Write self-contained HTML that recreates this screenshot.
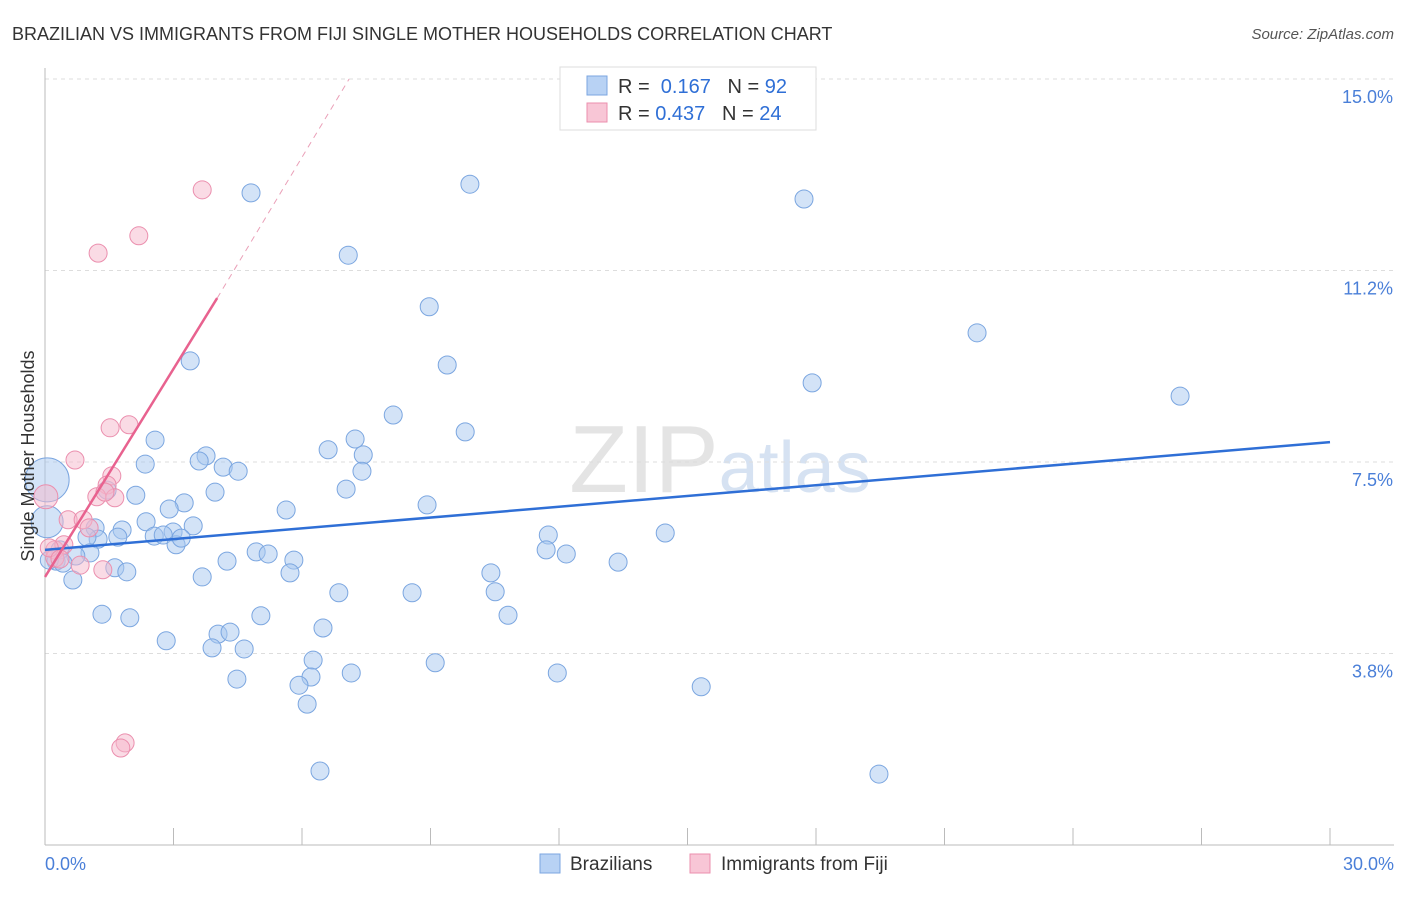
<!DOCTYPE html>
<html><head><meta charset="utf-8"><style>
body{margin:0;background:#fff;font-family:"Liberation Sans",sans-serif;}
svg text{font-family:"Liberation Sans",sans-serif;}
</style></head><body>
<svg id="chart" width="1406" height="892" viewBox="0 0 1406 892" xmlns="http://www.w3.org/2000/svg">
<text x="12" y="40" font-size="18" fill="#333">BRAZILIAN VS IMMIGRANTS FROM FIJI SINGLE MOTHER HOUSEHOLDS CORRELATION CHART</text>
<text x="1394" y="39" font-size="15" fill="#555" font-style="italic" text-anchor="end">Source: ZipAtlas.com</text>
<text x="720" y="492" font-size="96" fill="#e4e4e4" text-anchor="middle" font-family="Liberation Serif"><tspan>ZIP</tspan><tspan fill="#d6e2f2" font-family="Liberation Sans" font-size="72">atlas</tspan></text>
<g id="grid"></g><g id="axes"></g><g id="marks"></g>
<text transform="translate(34,456) rotate(-90)" font-size="18" fill="#333" text-anchor="middle">Single Mother Households</text>
<g>
<rect x="560" y="67" width="256" height="63" fill="#fff" stroke="#ddd"/>
<rect x="587" y="76" width="20" height="19" fill="#b8d2f4" stroke="#7ba6e0"/>
<rect x="587" y="103" width="20" height="19" fill="#f8c6d6" stroke="#eb8fae"/>
<text x="618" y="93" font-size="20" fill="#333">R = <tspan fill="#2f6fd6">&#160;0.167</tspan>&#160;&#160;&#160;N = <tspan fill="#2f6fd6">92</tspan></text>
<text x="618" y="120" font-size="20" fill="#333">R = <tspan fill="#2f6fd6">0.437</tspan>&#160;&#160;&#160;N = <tspan fill="#2f6fd6">24</tspan></text>
</g>
<g>
<rect x="540" y="854" width="20" height="19" fill="#b8d2f4" stroke="#7ba6e0"/>
<text x="570" y="870" font-size="19" fill="#333">Brazilians</text>
<rect x="690" y="854" width="20" height="19" fill="#f8c6d6" stroke="#eb8fae"/>
<text x="721" y="870" font-size="19" fill="#333">Immigrants from Fiji</text>
</g>
</svg>
<script>
const yTicks=[15.0,11.25,7.5,3.75];
const yTickLabels=["15.0%","11.2%","7.5%","3.8%"];
const xTickLabels=["0.0%","30.0%"];
const blueX=[4.81,9.92,17.72,7.08,8.97,21.76,3.39,9.39,17.91,26.50,8.13,9.81,2.57,7.24,6.61,3.76,7.43,2.34,3.60,4.16,4.51,7.40,7.03,3.97,2.12,1.45,3.25,5.63,8.92,2.90,2.36,3.46,1.80,1.17,2.99,2.55,1.70,2.76,1.24,3.06,3.18,0.98,11.75,14.48,11.70,12.17,13.38,4.93,5.21,5.81,4.25,1.05,0.35,0.72,0.26,0.42,1.63,1.91,5.72,10.41,3.67,0.65,6.86,8.57,10.51,1.33,1.98,5.04,10.81,6.49,2.83,4.04,4.32,3.90,4.65,6.26,9.11,7.15,11.96,4.48,6.21,5.93,15.32,6.12,6.42,19.47,0.05,0.05,0.1];
const blueY=[12.77,12.94,12.65,11.55,10.54,10.03,9.48,9.40,9.05,8.79,8.42,8.09,7.93,7.95,7.74,7.62,7.64,7.46,7.52,7.40,7.32,7.32,6.97,6.91,6.85,6.95,6.70,6.56,6.66,6.58,6.33,6.25,6.17,6.21,6.13,6.05,6.03,6.07,5.99,5.88,6.01,6.03,6.07,6.11,5.78,5.70,5.54,5.74,5.70,5.58,5.56,5.72,5.78,5.66,5.56,5.52,5.43,5.35,5.33,5.33,5.25,5.19,4.94,4.94,4.96,4.52,4.45,4.49,4.50,4.25,4.00,4.13,4.17,3.86,3.84,3.62,3.57,3.37,3.37,3.25,3.29,3.13,3.10,2.76,1.45,1.39,7.15,6.33,5.58];
const blueR=[9,9,9,9,9,9,9,9,9,9,9,9,9,9,9,9,9,9,9,9,9,9,9,9,9,9,9,9,9,9,9,9,9,9,9,9,9,9,9,9,9,9,9,9,9,9,9,9,9,9,9,9,9,9,9,9,9,9,9,9,9,9,9,9,9,9,9,9,9,9,9,9,9,9,9,9,9,9,9,9,9,9,9,9,9,9,22,16,9];
const pinkX=[3.67,2.19,1.24,0.70,1.96,1.52,1.56,1.45,1.21,1.63,1.40,0.02,0.54,0.89,1.03,0.23,0.44,1.35,0.82,0.23,1.87,1.77,0.10,0.35];
const pinkY=[12.83,11.93,11.59,7.54,8.23,8.17,7.23,7.05,6.82,6.80,6.91,6.82,6.37,6.37,6.21,5.78,5.88,5.39,5.48,5.62,2.00,1.90,5.82,5.60];
const pinkR=[9,9,9,9,9,9,9,9,9,9,9,12,9,9,9,9,9,9,9,9,9,9,9,9];
const blueLine=[[0,5.78],[30,7.89]];
const pinkLine=[[0,5.25],[4.02,10.71]];
const pinkDash=[[4.02,10.71],[7.1,15.0]];

const X0=45,X1=1330,Y0=845;
const sx=v=>X0+v/30*(X1-X0);
const sy=v=>79+(15-v)*51.07;
const NS="http://www.w3.org/2000/svg";
function mk(p,t,a){const e=document.createElementNS(NS,t);for(const k in a)e.setAttribute(k,a[k]);p.appendChild(e);return e;}
const grid=document.getElementById('grid'),axes=document.getElementById('axes'),marks=document.getElementById('marks');
yTicks.forEach((t,i)=>{
 const l=mk(grid,'line',{x1:X0,x2:1394,y1:sy(t),y2:sy(t),stroke:'#ddd','stroke-dasharray':'4,4'});
 
 
 const tx=mk(grid,'text',{x:1393,y:sy(t)+24,'font-size':18,fill:'#4a7fd8','text-anchor':'end'});
 tx.textContent=yTickLabels[i];
 
 
});
const ax=mk(axes,'line',{x1:X0,x2:X0,y1:68,y2:Y0,stroke:'#bbb'});


const bx=mk(axes,'line',{x1:X0,x2:1394,y1:Y0,y2:Y0,stroke:'#bbb'});


for(let i=0;i<=10;i++){
 const t=mk(axes,'line',{x1:sx(i*3),x2:sx(i*3),y1:828,y2:Y0,stroke:'#bbb'});
 
 
}
[[0,'start',45],[30,'end',1394]].forEach((d,i)=>{
 const tx=mk(axes,'text',{x:d[2],y:870,'font-size':18,fill:'#4a7fd8','text-anchor':d[1]});
 tx.textContent=xTickLabels[i];
 
 
});
blueX.forEach((v,i)=>{
 const c=mk(marks,'circle',{cx:sx(v),cy:sy(blueY[i]),r:blueR[i],fill:'rgba(168,200,240,0.5)',stroke:'#7ba6e0','stroke-width':1});
 
 
});
pinkX.forEach((v,i)=>{
 const c=mk(marks,'circle',{cx:sx(v),cy:sy(pinkY[i]),r:pinkR[i],fill:'rgba(246,184,204,0.5)',stroke:'#eb8fae','stroke-width':1});
 
 
});
const bl=mk(marks,'line',{x1:sx(blueLine[0][0]),y1:sy(blueLine[0][1]),x2:sx(blueLine[1][0]),y2:sy(blueLine[1][1]),stroke:'#2f6fd6','stroke-width':2.5});


const pl=mk(marks,'line',{x1:sx(pinkLine[0][0]),y1:sy(pinkLine[0][1]),x2:sx(pinkLine[1][0]),y2:sy(pinkLine[1][1]),stroke:'#e8628f','stroke-width':2.5});


const pd=mk(marks,'line',{x1:sx(pinkDash[0][0]),y1:sy(pinkDash[0][1]),x2:sx(pinkDash[1][0]),y2:sy(pinkDash[1][1]),stroke:'#eaa0b8','stroke-width':1,'stroke-dasharray':'6,5'});


</script>
</body></html>
